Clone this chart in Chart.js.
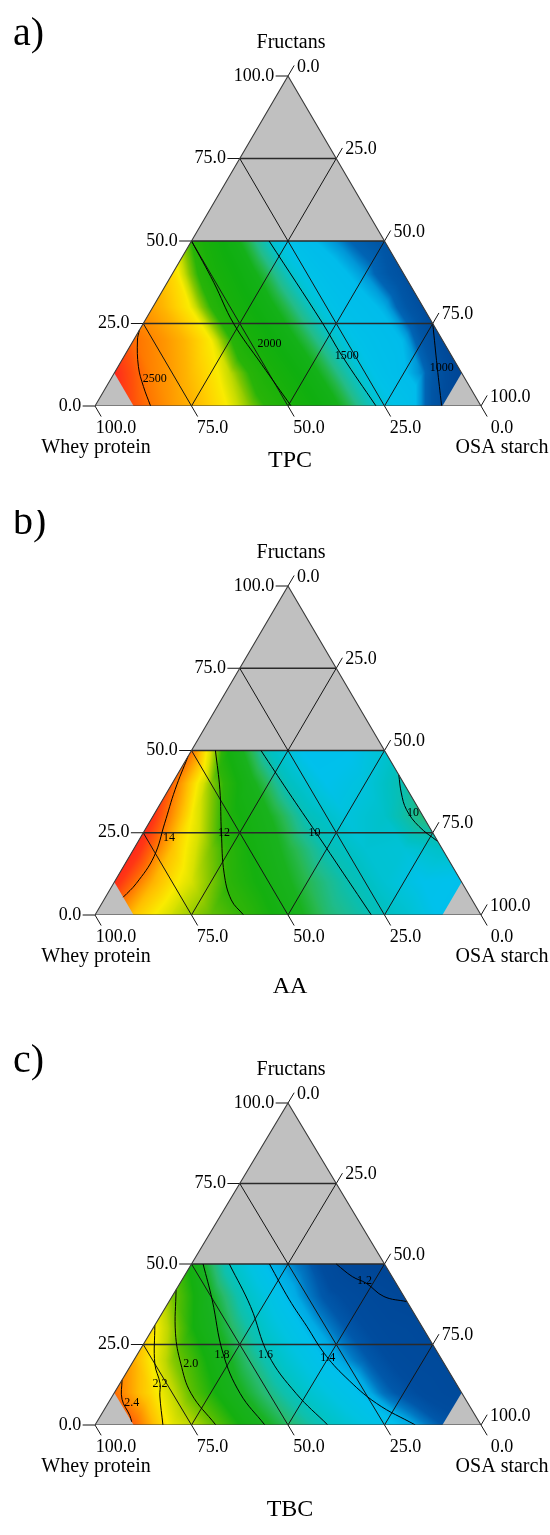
<!DOCTYPE html>
<html>
<head>
<meta charset="utf-8">
<title>Ternary mixture surfaces</title>
<script src="https://cdn.jsdelivr.net/npm/chart.js@4.4.1/dist/chart.umd.min.js"></script>
<style>
  html, body { margin: 0; padding: 0; background: #ffffff; }
  #page { position: relative; width: 550px; height: 1535px; overflow: hidden; background: #ffffff; }
  #page canvas { position: absolute; left: 0; }
</style>
</head>
<body>
<div id="page">
  <canvas id="panelA" width="550" height="510" style="top:0px"></canvas>
  <canvas id="panelB" width="550" height="510" style="top:510px"></canvas>
  <canvas id="panelC" width="550" height="505" style="top:1030px"></canvas>
</div>
<script>
// ---------- mixture components and axis ticks ----------
const componentNames = ['Fructans', 'Whey protein', 'OSA starch'];
const axisTicks = [0, 25, 50, 75, 100];
const axisTickText = ['0.0', '25.0', '50.0', '75.0', '100.0'];

// feasible design region (%): fructans <= 50, whey <= 90, OSA starch <= 90
const fructanMax = 50;
const binderMax = 90;

// fitted responses on a 10 % lattice: row r -> fructans 10*r,
// entry c -> OSA starch 10*c (whey protein makes up the rest)
const latticeStep = 10;

const tpcGrid = [
  [null, 2600, 2390, 2260, 2140, 2015, 1800, 1550, 1360, 1000, null],
  [2720, 2460, 2300, 2170, 2005, 1790, 1550, 1340, 1180, 880],
  [2530, 2370, 2210, 1985, 1770, 1540, 1350, 1240, 960],
  [2360, 2200, 1980, 1760, 1525, 1330, 1230, 1010],
  [2250, 2010, 1770, 1510, 1310, 1200, 1040],
  [2090, 1790, 1500, 1270, 1170, 1080]
];
const aaGrid = [
  [null, 13.5, 12.75, 12.25, 11.95, 11.2, 10.45, 10.05, 9.75, 9.4, null],
  [14.9, 13.65, 12.8, 11.95, 11.3, 10.6, 10.05, 9.7, 9.45, 9.4],
  [15.0, 13.5, 12.35, 11.5, 10.75, 10.0, 9.7, 9.65, 9.8],
  [14.8, 13.1, 11.7, 10.95, 9.95, 9.6, 9.8, 10.4],
  [14.3, 12.45, 11.1, 9.9, 9.45, 9.6, 10.05],
  [14.2, 11.4, 9.9, 9.35, 9.4, 9.7]
];
const tbcGrid = [
  [null, 2.45, 2.17, 2.02, 1.86, 1.73, 1.605, 1.50, 1.40, 1.32, null],
  [2.43, 2.23, 2.0, 1.84, 1.70, 1.565, 1.45, 1.34, 1.27, 1.22],
  [2.33, 2.05, 1.88, 1.71, 1.55, 1.41, 1.33, 1.25, 1.22],
  [2.22, 1.91, 1.74, 1.55, 1.40, 1.32, 1.24, 1.21],
  [2.03, 1.80, 1.575, 1.40, 1.31, 1.23, 1.17],
  [1.88, 1.595, 1.40, 1.33, 1.18, 1.12]
];

// contour lines: [fructans, OSA starch] points along each level
const tpcLevels = [2500, 2000, 1500, 1000];
const tpcLines = [
  [[23, 0], [20, 1], [11.9, 5.3], [5.9, 9.6], [0, 14.4]],
  [[50, 0], [37.5, 12], [25, 23.4], [12.5, 37], [0, 50.8]],
  [[50, 20.1], [25, 46.5], [15.2, 56.4], [0, 72.8]],
  [[25, 75], [11.9, 82.7], [0, 89.8]]
];
const tpcLabelAt = [[8.2, 11.4], [18.8, 35.8], [15.2, 57.6], [11.5, 84.1]];

const aaLevels = [14, 12, 10, 10];
const aaLines = [
  [[48.2, 0], [38.1, 1.7], [27.9, 4.1], [17.8, 6.4], [9.6, 5.9], [5.4, 4.6]],
  [[50, 6.2], [38.1, 13.3], [24.9, 20.3], [12.7, 27.1], [4.6, 33], [0, 38.5]],
  [[50, 18], [37.5, 31.3], [24.9, 44.9], [12.5, 58.2], [0, 71.6]],
  [[42.6, 57.4], [37.1, 60.8], [32, 64.7], [26.9, 70.5], [22.3, 77.7]]
];
const aaLabelAt = [[23.4, 7.5], [24.9, 21], [24.9, 44.4], [31.2, 66.8]];

const tbcLevels = [2.4, 2.2, 2.0, 1.8, 1.6, 1.4, 1.2];
const tbcLines = [
  [[14, 0], [8, 3], [3, 7.5], [1, 9]],
  [[31, 0], [19, 6], [12.9, 10.4], [9, 12.3], [0, 17.6]],
  [[42, 0], [28.5, 6.6], [19.2, 12.6], [9.8, 20], [0, 31.3]],
  [[50, 3], [38.9, 10.9], [22.3, 22], [9.8, 32.7], [0, 44]],
  [[50, 9.8], [36.8, 21.9], [21.8, 34], [9.8, 47.2], [0, 60.3]],
  [[50, 20.2], [38.9, 30.9], [30.6, 39.6], [22.3, 48.2], [15, 57.3], [6.7, 69.6], [0, 83]],
  [[50, 37.5], [46.1, 43.6], [44, 48.3], [39.9, 54.9], [38.3, 61.7]]
];
const tbcLabelAt = [[6.8, 6.1], [12.9, 10.4], [19, 15.3], [21.8, 22], [21.8, 33.3], [21, 49.8], [44.8, 47.4]];

// ---------- colour ramps (value -> rgb) ----------
const tpcPalette = [
  [900, [0, 70, 150]], [1000, [0, 76, 156]], [1100, [0, 86, 166]], [1160, [0, 100, 180]],
  [1200, [0, 150, 215]], [1250, [0, 188, 235]], [1400, [0, 194, 232]], [1470, [0, 195, 215]],
  [1530, [15, 192, 180]], [1600, [35, 188, 135]], [1660, [35, 182, 70]], [1720, [20, 177, 25]],
  [1850, [15, 175, 15]], [2000, [25, 177, 10]], [2090, [40, 180, 8]], [2140, [130, 198, 0]],
  [2175, [200, 220, 0]], [2210, [250, 235, 0]], [2260, [255, 210, 0]], [2320, [255, 180, 0]],
  [2400, [255, 150, 0]], [2500, [255, 120, 0]], [2600, [255, 80, 10]], [2720, [255, 40, 30]]
];
const aaPalette = [
  [9.2, [0, 190, 240]], [9.45, [0, 193, 235]], [9.65, [0, 194, 215]], [9.85, [0, 192, 195]],
  [10.05, [10, 190, 175]], [10.3, [30, 188, 140]], [10.6, [40, 184, 80]], [10.9, [25, 178, 30]],
  [11.5, [20, 176, 15]], [12.0, [45, 180, 8]], [12.4, [130, 198, 0]], [12.8, [215, 225, 0]],
  [13.1, [250, 235, 0]], [13.5, [255, 195, 0]], [13.9, [255, 150, 0]], [14.3, [255, 100, 5]],
  [14.7, [255, 55, 20]], [15.2, [255, 30, 30]]
];
const tbcPalette = [
  [1.10, [0, 68, 148]], [1.28, [0, 76, 158]], [1.32, [0, 88, 170]], [1.35, [0, 120, 195]],
  [1.38, [0, 170, 228]], [1.42, [0, 192, 236]], [1.50, [0, 195, 225]], [1.58, [0, 195, 200]],
  [1.65, [15, 192, 170]], [1.72, [40, 186, 110]], [1.79, [25, 178, 35]], [1.90, [20, 176, 15]],
  [2.00, [90, 190, 0]], [2.10, [190, 215, 0]], [2.20, [250, 235, 0]], [2.30, [255, 190, 0]],
  [2.38, [255, 140, 0]], [2.46, [255, 90, 10]], [2.56, [255, 40, 30]]
];

// ---------- drawing helpers ----------
const SERIF = '"Liberation Serif", "Times New Roman", "DejaVu Serif", serif';
const GREY = '#c0c0c0';
const INK = '#151515';
const TICK_LEN = 3.2;

function tp(f, osa) { return { x: osa + f / 2, y: f }; }

function lineSet(points, color, width, order, extra) {
  return Object.assign({
    data: points, showLine: true, fill: false,
    borderColor: color, borderWidth: width,
    pointRadius: 0, pointHoverRadius: 0, tension: 0, order: order
  }, extra || {});
}

function rampColor(palette, v) {
  if (v <= palette[0][0]) return palette[0][1];
  for (let k = 1; k < palette.length; k++) {
    if (v <= palette[k][0]) {
      const v0 = palette[k - 1][0], c0 = palette[k - 1][1];
      const v1 = palette[k][0], c1 = palette[k][1];
      const t = (v - v0) / (v1 - v0);
      return [c0[0] + (c1[0] - c0[0]) * t, c0[1] + (c1[1] - c0[1]) * t, c0[2] + (c1[2] - c0[2]) * t];
    }
  }
  return palette[palette.length - 1][1];
}

// linear interpolation inside the lattice triangles
function surfaceAt(grid, f, osa) {
  const rows = grid.length;
  let i = Math.min(Math.floor(f / latticeStep), rows - 2);
  if (i < 0) i = 0;
  const u = f / latticeStep - i;
  const a = osa / latticeStep;
  let j = Math.floor(a);
  j = Math.max(0, Math.min(j, 10 - i - 1));
  const v = a - j;
  const g = (r, c) => (grid[r] && grid[r][c] != null) ? grid[r][c] : 0;
  if (u + v <= 1) return g(i, j) * (1 - u - v) + g(i + 1, j) * u + g(i, j + 1) * v;
  return g(i + 1, j + 1) * (u + v - 1) + g(i + 1, j) * (1 - v) + g(i, j + 1) * (1 - u);
}

function surfacePlugin(spec) {
  return {
    id: 'mixtureSurface',
    afterDatasetDraw(chart, args) {
      if (chart.data.datasets[args.index].role !== 'base') return;
      const xs = chart.scales.x, ys = chart.scales.y, ctx = chart.ctx;
      const top = Math.floor(ys.getPixelForValue(fructanMax)) - 2;
      const bot = Math.ceil(ys.getPixelForValue(0)) + 2;
      const left = Math.floor(xs.getPixelForValue(0)) - 2;
      const right = Math.ceil(xs.getPixelForValue(100)) + 2;
      const w = right - left, h = bot - top;
      const off = document.createElement('canvas');
      off.width = w; off.height = h;
      const octx = off.getContext('2d');
      const img = octx.createImageData(w, h);
      const minBinder = 100 - binderMax;
      for (let py = 0; py < h; py++) {
        let f = ys.getValueForPixel(top + py + 0.5);
        f = Math.max(0, Math.min(fructanMax, f));
        for (let px = 0; px < w; px++) {
          const xv = xs.getValueForPixel(left + px + 0.5);
          let osa = xv - f / 2;
          osa = Math.max(0, Math.min(100 - f, osa));
          if (f + osa < minBinder) osa = minBinder - f;
          if (osa > binderMax) osa = binderMax;
          const c = rampColor(spec.palette, surfaceAt(spec.grid, f, osa));
          const k = (py * w + px) * 4;
          img.data[k] = c[0]; img.data[k + 1] = c[1]; img.data[k + 2] = c[2]; img.data[k + 3] = 255;
        }
      }
      octx.putImageData(img, 0, 0);
      const region = [[0, minBinder], [0, binderMax], [100 - binderMax, binderMax],
                      [fructanMax, 100 - fructanMax], [fructanMax, 0], [minBinder, 0]];
      ctx.save();
      ctx.beginPath();
      region.forEach((p, n) => {
        const q = tp(p[0], p[1]);
        const X = xs.getPixelForValue(q.x), Y = ys.getPixelForValue(q.y);
        if (n === 0) ctx.moveTo(X, Y); else ctx.lineTo(X, Y);
      });
      ctx.closePath();
      ctx.clip();
      ctx.drawImage(off, left, top);
      ctx.restore();
    }
  };
}

function textPlugin(spec) {
  return {
    id: 'ternaryText',
    afterDraw(chart) {
      const ctx = chart.ctx, xs = chart.scales.x, ys = chart.scales.y;
      const px = (f, osa) => { const q = tp(f, osa); return [xs.getPixelForValue(q.x), ys.getPixelForValue(q.y)]; };
      ctx.save();
      ctx.fillStyle = '#000';
      ctx.textBaseline = 'middle';
      ctx.font = '18px ' + SERIF;
      axisTicks.forEach((t, k) => {
        let p = px(t, -TICK_LEN);                // fructans, left side
        ctx.textAlign = 'right';
        ctx.fillText(axisTickText[k], p[0] - 1.5, p[1]);
        p = px(100 - t, t);                      // OSA starch, right side
        ctx.textAlign = 'left';
        ctx.fillText(axisTickText[k], p[0] + 9, p[1] - 9);
        p = px(0, 100 - t);                      // whey protein, base
        ctx.textAlign = 'center';
        ctx.fillText(axisTickText[k], p[0] + 21, p[1] + 22);
      });
      ctx.font = '20px ' + SERIF;
      ctx.textAlign = 'center';
      let p = px(100, 0);
      ctx.fillText(componentNames[0], p[0] + 3, p[1] - 33);
      p = px(0, 0);
      ctx.fillText(componentNames[1], p[0] + 1, p[1] + 42);
      p = px(0, 100);
      ctx.fillText(componentNames[2], p[0] + 21, p[1] + 42);

      // contour labels
      ctx.font = '12px ' + SERIF;
      spec.labelAt.forEach((q, n) => {
        const lp = px(q[0], q[1]);
        ctx.fillText(spec.format(spec.levels[n]), lp[0], lp[1]);
      });

      // panel letter and response name
      ctx.textBaseline = 'alphabetic';
      ctx.textAlign = 'left';
      ctx.font = '40px ' + SERIF;
      ctx.fillText(spec.letter, 13, spec.letterY);
      ctx.textBaseline = 'middle';
      ctx.textAlign = 'center';
      ctx.font = '24px ' + SERIF;
      p = px(100, 0);
      ctx.fillText(spec.title, p[0] + 2, spec.titleY);
      ctx.restore();
    }
  };
}

function buildPanel(spec) {
  const canvas = document.getElementById(spec.canvas);
  const H = canvas.height;
  const datasets = [];

  // whole simplex in grey (the coloured design region is painted over it)
  datasets.push(lineSet([tp(0, 0), tp(0, 100), tp(100, 0), tp(0, 0)], 'rgba(0,0,0,0)', 0, 40,
    { role: 'base', fill: 'shape', backgroundColor: GREY }));

  // 25 % grid lines for the three components
  [25, 50, 75].forEach(v => {
    datasets.push(lineSet([tp(v, 0), tp(v, 100 - v)], '#2a2a2a', 1.4, 20));          // fructans
    datasets.push(lineSet([tp(0, v), tp(100 - v, v)], INK, 1, 20));                   // OSA starch
    datasets.push(lineSet([tp(0, 100 - v), tp(100 - v, 0)], INK, 1, 20));             // whey protein
  });

  // contour lines of the fitted response
  spec.lines.forEach(pts => {
    datasets.push(lineSet(pts.map(q => tp(q[0], q[1])), '#000', 1, 10, { tension: 0.4 }));
  });

  // outline and tick marks
  datasets.push(lineSet([tp(0, 0), tp(0, 100), tp(100, 0), tp(0, 0)], '#3a3a3a', 1.1, 5));
  axisTicks.forEach(t => {
    datasets.push(lineSet([tp(t, 0), tp(t, -TICK_LEN)], INK, 1, 5, { clip: false }));
    datasets.push(lineSet([tp(100 - t, t), tp(100 - t + TICK_LEN, t)], INK, 1, 5, { clip: false }));
    datasets.push(lineSet([tp(0, 100 - t), tp(-TICK_LEN, 100 - t + TICK_LEN)], INK, 1, 5, { clip: false }));
  });

  return new Chart(canvas, {
    type: 'scatter',
    data: { datasets: datasets },
    options: {
      responsive: false,
      animation: false,
      devicePixelRatio: 1,
      events: [],
      layout: { autoPadding: false, padding: { left: 95, right: 69, top: spec.apexY, bottom: H - spec.baseY } },
      scales: {
        x: { type: 'linear', min: 0, max: 100, display: false },
        y: { type: 'linear', min: 0, max: 100, display: false }
      },
      plugins: { legend: { display: false }, tooltip: { enabled: false }, title: { display: false } }
    },
    plugins: [surfacePlugin(spec), textPlugin(spec)]
  });
}

const panels = [
  { canvas: 'panelA', letter: 'a)', letterY: 45, title: 'TPC', titleY: 461, apexY: 76, baseY: 406,
    grid: tpcGrid, palette: tpcPalette, levels: tpcLevels, lines: tpcLines, labelAt: tpcLabelAt,
    format: v => String(v) },
  { canvas: 'panelB', letter: 'b)', letterY: 24, title: 'AA', titleY: 477, apexY: 76, baseY: 405,
    grid: aaGrid, palette: aaPalette, levels: aaLevels, lines: aaLines, labelAt: aaLabelAt,
    format: v => String(v) },
  { canvas: 'panelC', letter: 'c)', letterY: 42, title: 'TBC', titleY: 480, apexY: 73, baseY: 395,
    grid: tbcGrid, palette: tbcPalette, levels: tbcLevels, lines: tbcLines, labelAt: tbcLabelAt,
    format: v => v.toFixed(1) }
];
panels.forEach(buildPanel);
</script>
</body>
</html>
